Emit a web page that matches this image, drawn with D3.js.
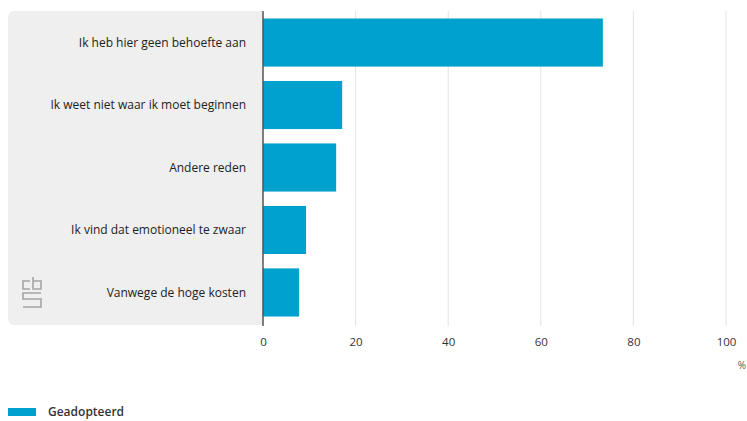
<!DOCTYPE html>
<html><head><meta charset="utf-8">
<script src="https://cdn.jsdelivr.net/npm/d3@7"></script>
<style>body{margin:0;background:#fff;} text{font-family:"Open Sans",sans-serif;}</style>
</head><body>
<svg id="c" width="747" height="421"></svg>
<script>
const categories = ["Ik heb hier geen behoefte aan","Ik weet niet waar ik moet beginnen","Andere reden","Ik vind dat emotioneel te zwaar","Vanwege de hoge kosten"];
const values = [73.4, 17.1, 15.8, 9.3, 7.8];
const ticks = [0,20,40,60,80,100];
const seriesName = "Geadopteerd";

const svg = d3.select("#c");
const x = d3.scaleLinear().domain([0,100]).range([263,726]);
const y = d3.scaleBand().domain(categories).range([11,324]).paddingInner(0.23).paddingOuter(0.12);

svg.append("rect").attr("x",8).attr("y",11).attr("width",262).attr("height",314).attr("rx",6).attr("fill","#efefef");
svg.append("rect").attr("x",263).attr("y",11).attr("width",10).attr("height",314).attr("fill","#fff");

// gridlines
svg.append("g").selectAll("line").data(ticks.slice(1)).join("line")
  .attr("x1",d=>x(d)).attr("x2",d=>x(d)).attr("y1",11).attr("y2",326)
  .attr("stroke","#e3e3e3").attr("stroke-width",1);

svg.append("g").selectAll("rect").data(values).join("rect")
  .attr("x",x(0)).attr("y",(d,i)=>y(categories[i])).attr("width",d=>x(d)-x(0)).attr("height",y.bandwidth())
  .attr("fill","#00a1cd");

svg.append("line").attr("x1",x(0)).attr("x2",x(0)).attr("y1",11).attr("y2",326).attr("stroke","#555").attr("stroke-width",1.5);

const ax = d3.axisBottom(x).tickValues(ticks).tickSize(0).tickPadding(0);
const g = svg.append("g").attr("transform","translate(0,338)").call(ax);
g.select(".domain").remove();
g.selectAll("text").attr("font-size",11.5).attr("font-weight",500).attr("fill","#333").attr("font-family","'Open Sans',sans-serif");

svg.append("text").attr("x",742).attr("y",369).attr("text-anchor","middle").attr("font-size",10).attr("fill","#555").text("%");

svg.append("g").selectAll("text").data(categories).join("text")
  .attr("x",246).attr("y",d=>y(d)+y.bandwidth()/2).attr("dy","0.35em").attr("text-anchor","end")
  .attr("font-size",12).attr("font-weight",500).attr("fill","#222").text(d=>d);

// logo
const lg = svg.append("g").attr("fill","none").attr("stroke","#a5a5a5").attr("stroke-width",1.6);
lg.append("path").attr("d","M30,281 H23 V289 H30");
lg.append("path").attr("d","M33,277 V289 H41 V281 H33");
lg.append("path").attr("d","M41,293 H23 V299 H41 V307 H23");

svg.append("rect").attr("x",8).attr("y",408).attr("width",28).attr("height",8).attr("fill","#00a1cd");
svg.append("text").attr("x",48).attr("y",416).attr("font-size",12).attr("font-weight",600).attr("fill","#333").text(seriesName);
</script>
</body></html>
